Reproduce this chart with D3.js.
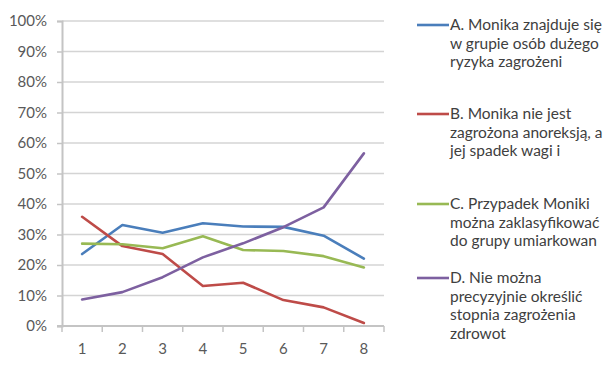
<!DOCTYPE html>
<html>
<head>
<meta charset="utf-8">
<script src="https://cdn.jsdelivr.net/npm/d3@7"></script>
<style>
  html, body { margin: 0; padding: 0; background: #fff; }
  svg { display: block; }
  text { font-family: Lato, "Open Sans", sans-serif; }
</style>
</head>
<body>
<svg id="chart" width="607" height="365"></svg>
<script>
// Categories along the x axis
const categories = [1, 2, 3, 4, 5, 6, 7, 8];

// Share of answers (%) for each option
const seriesA = [23.6, 33.1, 30.6, 33.7, 32.6, 32.5, 29.6, 22.1];
const seriesB = [35.8, 26.2, 23.6, 13.1, 14.2, 8.5, 6.1, 1.0];
const seriesC = [27.0, 26.8, 25.5, 29.4, 24.9, 24.6, 22.9, 19.2];
const seriesD = [8.7, 11.1, 16.0, 22.5, 27.1, 32.4, 38.9, 56.6];

// Legend labels (each already split into lines)
const labelsA = ["A. Monika znajduje się", "w grupie osób dużego", "ryzyka zagrożeni"];
const labelsB = ["B. Monika nie jest", "zagrożona anoreksją, a", "jej spadek wagi i"];
const labelsC = ["C. Przypadek Moniki", "można zaklasyfikować", "do grupy umiarkowan"];
const labelsD = ["D. Nie można", "precyzyjnie określić", "stopnia zagrożenia", "zdrowot"];

// Y axis ticks
const yTicks = [0, 10, 20, 30, 40, 50, 60, 70, 80, 90, 100];

const series = [
  { values: seriesA, color: "#4A7EBB", label: labelsA },
  { values: seriesB, color: "#BE4B48", label: labelsB },
  { values: seriesC, color: "#98B954", label: labelsC },
  { values: seriesD, color: "#7D60A0", label: labelsD }
];

const svg = d3.select("#chart");
const plot = { left: 62, right: 384, top: 21, bottom: 326 };

const x = d3.scaleBand()
  .domain(categories)
  .range([plot.left, plot.right])
  .padding(0);

const y = d3.scaleLinear()
  .domain([0, 100])
  .range([plot.bottom, plot.top]);

// Horizontal gridlines
svg.append("g")
  .selectAll("line")
  .data(yTicks.filter(d => d > 0))
  .join("line")
  .attr("x1", plot.left)
  .attr("x2", plot.right)
  .attr("y1", d => y(d))
  .attr("y2", d => y(d))
  .attr("stroke", "#d4d4d4")
  .attr("stroke-width", 1.5);

// Y axis
const yAxis = svg.append("g")
  .attr("transform", `translate(${plot.left},0)`)
  .call(d3.axisLeft(y).tickValues(yTicks).tickFormat(d => d + "%").tickSize(5).tickPadding(10));
yAxis.select(".domain").attr("stroke", "#c4c4c4").attr("stroke-width", 2);
yAxis.selectAll(".tick line").attr("stroke", "#c4c4c4").attr("stroke-width", 1.5);
yAxis.selectAll(".tick text")
  .attr("fill", "#595959")
  .style("font-size", "15px")
  .style("font-family", "Lato, sans-serif");

// X axis: tick marks sit on the category boundaries
const xAxis = svg.append("g")
  .attr("transform", `translate(0,${plot.bottom})`);
xAxis.append("line")
  .attr("x1", plot.left - 5)
  .attr("x2", plot.right)
  .attr("stroke", "#c4c4c4")
  .attr("stroke-width", 2);
xAxis.selectAll("line.bound")
  .data(categories.concat(["end"]))
  .join("line")
  .attr("class", "bound")
  .attr("x1", (d, i) => i < categories.length ? x(d) : plot.right)
  .attr("x2", (d, i) => i < categories.length ? x(d) : plot.right)
  .attr("y1", 0)
  .attr("y2", 6)
  .attr("stroke", "#c4c4c4")
  .attr("stroke-width", 1.5);
xAxis.selectAll("text")
  .data(categories)
  .join("text")
  .attr("x", d => x(d) + x.bandwidth() / 2)
  .attr("y", 28)
  .attr("text-anchor", "middle")
  .attr("fill", "#595959")
  .style("font-size", "15px")
  .text(d => d);

// Lines
const line = d3.line()
  .x((d, i) => x(categories[i]) + x.bandwidth() / 2)
  .y(d => y(d));

svg.append("g")
  .selectAll("path")
  .data(series)
  .join("path")
  .attr("d", d => line(d.values))
  .attr("fill", "none")
  .attr("stroke", d => d.color)
  .attr("stroke-width", 2.6)
  .attr("stroke-linejoin", "round")
  .attr("stroke-linecap", "round");

// Legend
const legendTops = [25, 114, 204, 278];
const legend = svg.append("g");
series.forEach((s, i) => {
  const g = legend.append("g").attr("transform", `translate(417,${legendTops[i]})`);
  g.append("line")
    .attr("x1", 0).attr("x2", 32)
    .attr("y1", 0).attr("y2", 0)
    .attr("stroke", s.color)
    .attr("stroke-width", 2.6);
  g.append("text")
    .attr("x", 33)
    .attr("y", 0)
    .attr("fill", "#404040")
    .style("font-size", "15.5px")
    .selectAll("tspan")
    .data(s.label)
    .join("tspan")
    .attr("x", 33)
    .attr("dy", (d, j) => j === 0 ? "0.33em" : "18.5px")
    .text(d => d);
});
</script>
</body>
</html>
